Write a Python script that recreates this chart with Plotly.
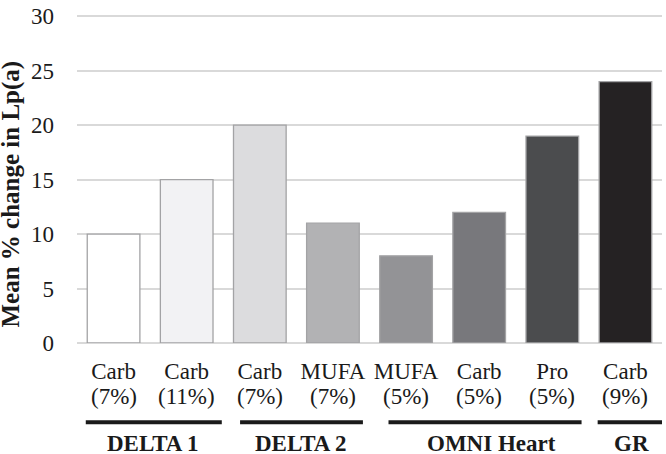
import plotly.graph_objects as go

cat_names = ["Carb", "Carb", "Carb", "MUFA", "MUFA", "Carb", "Pro", "Carb"]
cat_pcts = ["(7%)", "(11%)", "(7%)", "(7%)", "(5%)", "(5%)", "(5%)", "(9%)"]
values = [10, 15, 20, 11, 8, 12, 19, 24]
colors = ["#ffffff", "#f2f2f4", "#dcdcde", "#b2b2b4", "#939396", "#78787c", "#4b4c4e", "#252223"]
groups = ["DELTA 1", "DELTA 2", "OMNI Heart", "GR"]
group_spans = [(-0.38, 1.48), (1.73, 3.41), (3.76, 6.40), (6.62, 7.6)]
group_label_x = [0.53, 2.56, 5.17, 7.08]
yticks = [0, 5, 10, 15, 20, 25, 30]
y_title = "Mean % change in Lp(a)"

xidx = list(range(len(values)))
fig = go.Figure(go.Bar(
    x=xidx, y=values,
    marker=dict(color=colors, line=dict(color="#a3a3a5", width=1.3)),
    width=0.72,
))

font = "Liberation Serif, Times New Roman, serif"
ink = "#1a1a1a"
shapes = []
annotations = []
for i, p in zip(xidx, cat_pcts):
    annotations.append(dict(x=i, y=-0.162, xref="x", yref="paper", text=p, showarrow=False,
                            font=dict(family=font, size=23, color=ink), yanchor="middle"))
for (a, b), g, gx in zip(group_spans, groups, group_label_x):
    shapes.append(dict(type="line", xref="x", yref="paper", x0=a, x1=b, y0=-0.24, y1=-0.24,
                       line=dict(color=ink, width=4)))
    annotations.append(dict(x=gx, y=-0.305, xref="x", yref="paper", text="<b>%s</b>" % g,
                            showarrow=False, font=dict(family=font, size=23, color=ink),
                            yanchor="middle"))
annotations.append(dict(x=-0.1145, y=0.45, xref="paper", yref="paper", text="<b>%s</b>" % y_title,
                        textangle=-90, showarrow=False, xanchor="center", yanchor="middle",
                        font=dict(family=font, size=25, color=ink)))

fig.update_layout(
    width=666, height=454, autosize=False,
    margin=dict(l=77, r=4, t=6, b=111),
    paper_bgcolor="white", plot_bgcolor="white",
    showlegend=False,
    font=dict(family=font, size=23, color=ink),
    xaxis=dict(tickmode="array", tickvals=xidx, ticktext=cat_names, range=[-0.5, 7.5],
               showgrid=False, showline=False, zeroline=False, ticks="", ticklabelstandoff=12,
               tickfont=dict(family=font, size=23, color=ink)),
    yaxis=dict(range=[0, 30.3], tickvals=yticks, showgrid=True, gridcolor="#d9d9d9", gridwidth=1.5,
               zeroline=True, zerolinecolor="#d9d9d9", zerolinewidth=1.5, showline=False,
               ticks="", ticklabelstandoff=22, ticklabeloverflow="allow",
               tickfont=dict(family=font, size=23, color=ink)),
    shapes=shapes, annotations=annotations,
)
fig.write_html("out.html", config={"displayModeBar": False},
               post_script="document.body.style.margin='0';")
